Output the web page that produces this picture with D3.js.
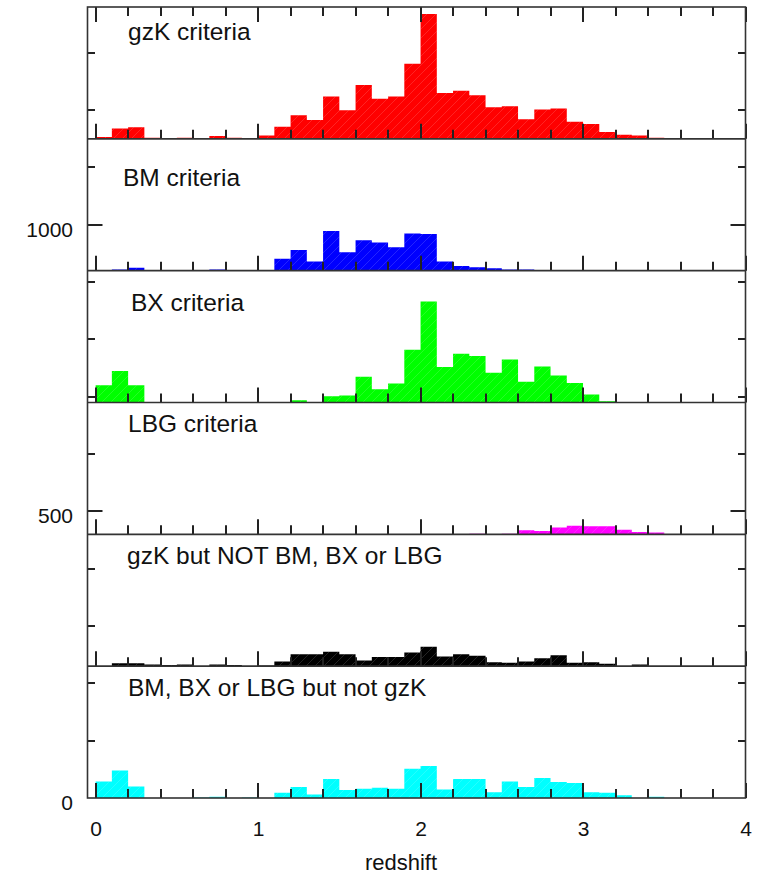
<!DOCTYPE html>
<html>
<head>
<meta charset="utf-8">
<script src="https://cdn.jsdelivr.net/npm/d3@7"></script>
<style>
  body { margin: 0; background: #fff; }
  svg { display: block; font-family: "Liberation Sans", Arial, Helvetica, sans-serif; }
</style>
</head>
<body>
<svg id="chart" width="765" height="878"></svg>
<script>
// redshift bins of width 0.1, starting at 0
const binStart = 0;
const binWidth = 0.1;

// counts per bin
const gzK = [3, 18, 20, 2, 1, 2, 0, 5, 2, 1, 6, 21, 41, 33, 74, 50, 94, 70, 74, 131, 218, 80, 84, 76, 55, 57, 34, 51, 53, 30, 26, 12, 7, 6, 2];
const bm = [0, 2, 5, 0, 0, 0, 0, 2, 0, 1, 1, 21, 36, 16, 69, 32, 53, 49, 41, 65, 64, 16, 8, 6, 4, 2, 2, 1, 1, 0, 0, 0, 0, 0, 0];
const bx = [30, 55, 30, 0, 0, 0, 0, 0, 0, 1, 0, 1, 4, 1, 11, 12, 45, 23, 33, 92, 176, 62, 85, 81, 52, 75, 36, 63, 47, 34, 14, 2, 0, 0, 0];
const lbg = [0, 0, 0, 0, 0, 0, 0, 0, 0, 0, 0, 0, 0, 0, 0, 0, 0, 0, 0, 0, 0, 0, 0, 1, 0, 1, 7, 6, 12, 15, 14, 14, 8, 4, 3];
const gzKOnly = [0, 5, 5, 3, 2, 3, 0, 3, 2, 0, 1, 8, 21, 21, 25, 21, 10, 16, 16, 24, 34, 17, 21, 18, 7, 6, 8, 14, 19, 6, 7, 4, 0, 3, 0];
const notGzK = [29, 48, 20, 0, 0, 0, 1, 2, 0, 1, 0, 9, 19, 6, 33, 14, 16, 18, 16, 51, 56, 15, 33, 33, 10, 29, 19, 35, 28, 26, 10, 9, 5, 0, 2];

const panelNames = ['gzK criteria', 'BM criteria', 'BX criteria', 'LBG criteria', 'gzK but NOT BM, BX or LBG', 'BM, BX or LBG but not gzK'];
const panelSeries = [gzK, bm, bx, lbg, gzKOnly, notGzK];
const panelColors = ['#ff0000', '#0000ff', '#00ff00', '#ff00ff', '#000000', '#00ffff'];

// each panel spans 230 counts on one shared count axis
const panelSpan = 230;
const xTickLabels = [0, 1, 2, 3, 4];
const yTickLabels = [0, 500, 1000];

// label placement inside each panel (x start, baseline below panel top)
const labelX = [128, 123, 131, 128, 127, 128];
const labelDy = [33, 47, 40, 29, 30, 30];

const plotLeft = 87.5, plotRight = 745.5, plotTop = 7, plotBottom = 798;
const nPanels = panelSeries.length;

const x = d3.scaleLinear().domain([-0.05, 4]).range([plotLeft, plotRight]);
const y = d3.scaleLinear().domain([0, panelSpan * nPanels]).range([plotBottom, plotTop]);

const xTicks = d3.range(0, 21).map(k => k * 0.2);
const yTicks = d3.range(0, 14).map(k => k * 100);
const isMajorX = v => Math.abs(v - Math.round(v)) < 1e-6;
const isMajorY = v => v % 500 === 0;

const svg = d3.select('#chart');

// faint diagonal hatching on the bars
const defs = svg.append('defs');
defs.append('pattern')
  .attr('id', 'hatch')
  .attr('patternUnits', 'userSpaceOnUse')
  .attr('width', 9).attr('height', 9)
  .append('path')
  .attr('d', 'M-1,10 L10,-1 M-1,1 L1,-1 M8,10 L10,8')
  .attr('stroke', '#fff')
  .attr('stroke-opacity', 0.14)
  .attr('stroke-width', 1);

const barG = svg.append('g');
const tickG = svg.append('g').attr('stroke', '#222').attr('stroke-width', 2);

// vertical ticks at height y0 going in direction dir (-1 up, +1 down)
function xTickMarks(y0, dir) {
  tickG.append('g').selectAll('line')
    .data(xTicks)
    .join('line')
    .attr('x1', d => Math.round(x(d)))
    .attr('x2', d => Math.round(x(d)))
    .attr('y1', y0)
    .attr('y2', d => y0 + dir * (isMajorX(d) ? 15 : 9));
}

panelSeries.forEach((values, i) => {
  const offset = panelSpan * (nPanels - 1 - i);
  const pts = values.map((v, j) => ({ x: binStart + j * binWidth, v }));
  pts.push({ x: binStart + values.length * binWidth, v: values[values.length - 1] });

  const area = d3.area()
    .curve(d3.curveStepAfter)
    .x(d => x(d.x))
    .y0(y(offset))
    .y1(d => y(offset + d.v));

  barG.append('path').attr('d', area(pts)).attr('fill', panelColors[i]);
  barG.append('path').attr('d', area(pts)).attr('fill', 'url(#hatch)');

  // x ticks pointing up from each panel's baseline
  xTickMarks(y(offset), -1);

  svg.append('text')
    .attr('x', labelX[i])
    .attr('y', y(offset + panelSpan) + labelDy[i])
    .attr('font-size', 24.5)
    .attr('fill', '#111')
    .text(panelNames[i]);
});

// top border ticks
xTickMarks(plotTop, 1);

// y ticks on both sides
[[plotLeft, 1], [plotRight, -1]].forEach(([x0, dir]) => {
  tickG.append('g').selectAll('line')
    .data(yTicks.slice(1))
    .join('line')
    .attr('x1', x0)
    .attr('x2', d => x0 + dir * (isMajorY(d) ? 15 : 7.5))
    .attr('y1', d => Math.round(y(d)))
    .attr('y2', d => Math.round(y(d)));
});

// panel separators and frame
d3.range(1, nPanels).forEach(k => {
  svg.append('line')
    .attr('x1', plotLeft).attr('x2', plotRight)
    .attr('y1', y(panelSpan * k)).attr('y2', y(panelSpan * k))
    .attr('stroke', '#333').attr('stroke-width', 1.6);
});
svg.append('rect')
  .attr('x', plotLeft).attr('y', plotTop)
  .attr('width', plotRight - plotLeft).attr('height', plotBottom - plotTop)
  .attr('fill', 'none').attr('stroke', '#333').attr('stroke-width', 1.6);

// tick labels
const xLab = svg.append('g').attr('transform', `translate(0,${plotBottom})`)
  .call(d3.axisBottom(x).tickValues(xTickLabels).tickSize(0).tickPadding(23).tickFormat(d3.format('d')));
xLab.select('.domain').remove();
xLab.selectAll('text').attr('font-size', 21).attr('font-family', null).attr('fill', '#111');

const yLab = svg.append('g').attr('transform', `translate(${plotLeft},0)`)
  .call(d3.axisLeft(y).tickValues(yTickLabels).tickSize(0).tickPadding(14.5).tickFormat(d3.format('d')));
yLab.select('.domain').remove();
yLab.selectAll('text').attr('font-size', 21).attr('font-family', null).attr('fill', '#111').attr('dy', '0.55em');

svg.append('text')
  .attr('x', 401).attr('y', 870)
  .attr('text-anchor', 'middle')
  .attr('font-size', 22)
  .attr('fill', '#111')
  .text('redshift');
</script>
</body>
</html>
